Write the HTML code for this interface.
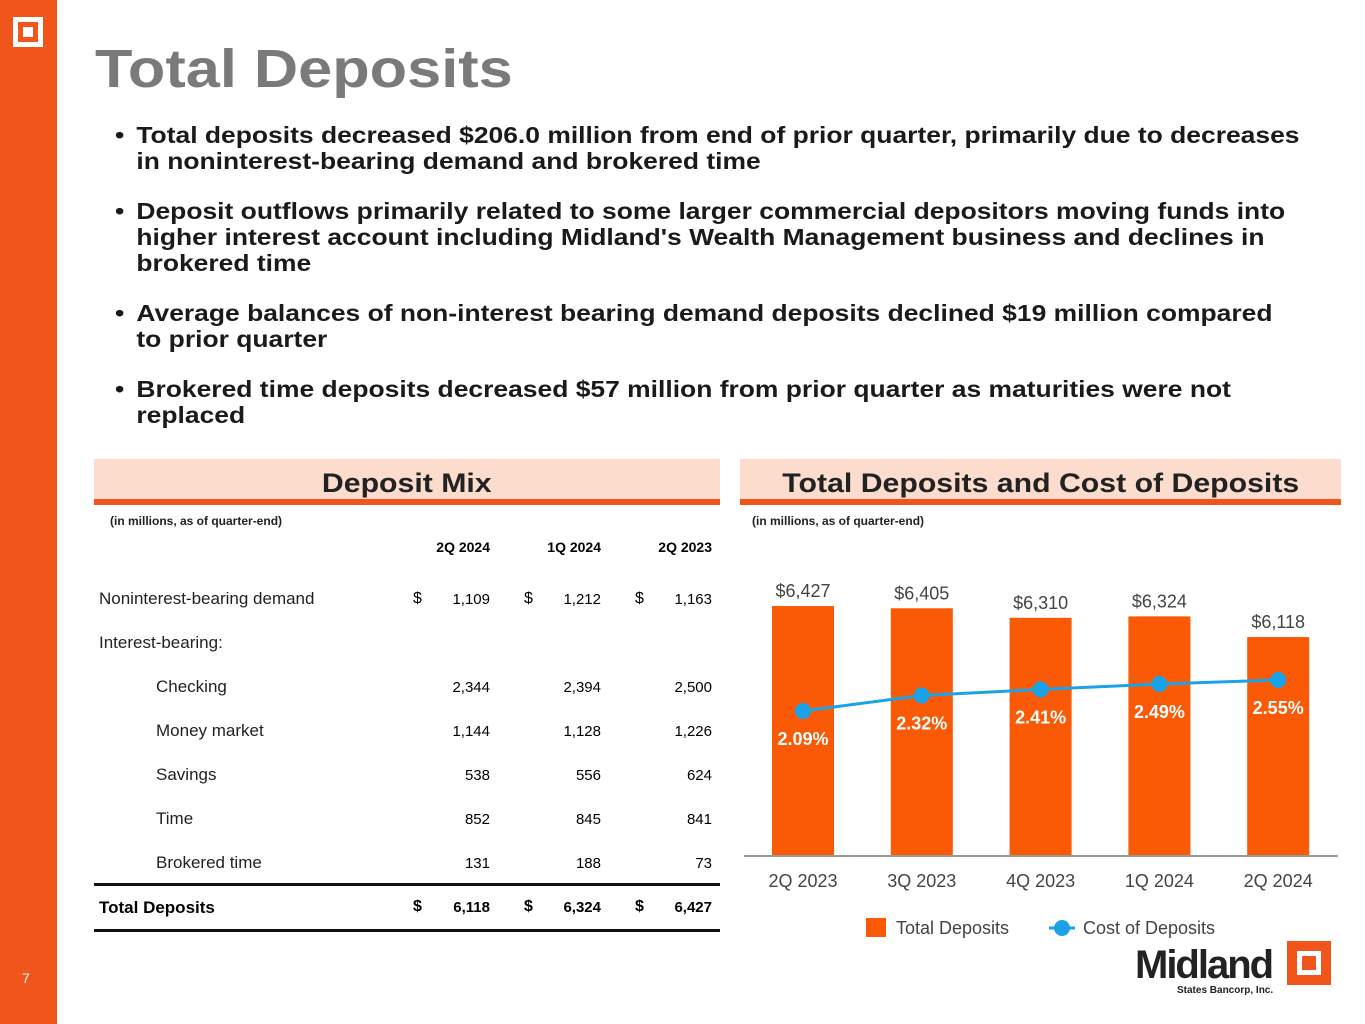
<!DOCTYPE html>
<html><head><meta charset="utf-8"><style>
body{margin:0;width:1365px;height:1024px;position:relative;background:#fff;font-family:"Liberation Sans",sans-serif;overflow:hidden}
.abs{position:absolute}
.bul{position:absolute;left:115px;width:1070px;font-weight:bold;font-size:23.5px;line-height:26px;color:#1a1a1a;transform:scaleX(1.125);transform-origin:0 0}
.bul span.d{position:absolute;left:0}
.bul div{margin-left:19px}
.hdr{position:absolute;top:459px;height:40px;background:#fbdccd;border-bottom:6px solid #f0561c;font-weight:bold;font-size:27px;text-align:center;line-height:48px;color:#222}
.hdr span{display:inline-block;transform:scaleX(1.12)}
.num{position:absolute;text-align:right;font-family:"Liberation Sans",sans-serif;font-size:15px}
</style></head><body>
<div class="abs" style="left:0;top:0;width:57px;height:1024px;background:#f0561c"></div>
<div class="abs" style="left:13px;top:17px;width:20px;height:20px;border:5px solid #fff"><div style="margin:5px;width:10px;height:10px;background:#fff"></div></div>
<div class="abs" style="left:22px;top:970px;color:#fff;font-size:14px">7</div>
<div class="abs" style="left:95px;top:38px;font-size:54px;font-weight:bold;color:#7a7a7a;transform:scaleX(1.135);transform-origin:0 0">Total Deposits</div>

<div class="bul" style="top:122px"><span class="d">•</span><div>Total deposits decreased $206.0 million from end of prior quarter, primarily due to decreases<br>in noninterest-bearing demand and brokered time</div></div>
<div class="bul" style="top:198px"><span class="d">•</span><div>Deposit outflows primarily related to some larger commercial depositors moving funds into<br>higher interest account including Midland's Wealth Management business and declines in<br>brokered time</div></div>
<div class="bul" style="top:300px"><span class="d">•</span><div>Average balances of non-interest bearing demand deposits declined $19 million compared<br>to prior quarter</div></div>
<div class="bul" style="top:376px"><span class="d">•</span><div>Brokered time deposits decreased $57 million from prior quarter as maturities were not<br>replaced</div></div>

<div class="hdr" style="left:94px;width:626px"><span>Deposit Mix</span></div>
<div class="hdr" style="left:740px;width:601px"><span>Total Deposits and Cost of Deposits</span></div>
<div class="abs" style="left:110px;top:514px;font-size:12px;font-weight:bold;color:#222">(in millions, as of quarter-end)</div>
<div class="abs" style="left:752px;top:514px;font-size:12px;font-weight:bold;color:#222">(in millions, as of quarter-end)</div>

<div id="tbl"></div>

<svg id="chart" class="abs" style="left:0;top:0" width="1365" height="1024"></svg>

<div class="abs" style="left:1135px;top:945px">
<div style="font-size:40px;font-weight:bold;letter-spacing:-2px;color:#222;line-height:40px">Midland</div>
<div style="font-size:10px;font-weight:bold;color:#222;margin-left:42px">States Bancorp, Inc.</div>
<div style="position:absolute;left:152px;top:-4px;width:24px;height:24px;border:10px solid #f0561c;background:#fff"><div style="margin:5px;width:14px;height:14px;background:#f0561c"></div></div>
</div>

<script>
const rows=[["Noninterest-bearing demand",["1,109","1,212","1,163"],true,0],["Interest-bearing:",null,false,0],["Checking",["2,344","2,394","2,500"],false,1],["Money market",["1,144","1,128","1,226"],false,1],["Savings",["538","556","624"],false,1],["Time",["852","845","841"],false,1],["Brokered time",["131","188","73"],false,1]];
const tbl=document.getElementById('tbl');
let h='';
const colR=[490,601,712],colD=[413,524,635];
['2Q 2024','1Q 2024','2Q 2023'].forEach((t,i)=>{h+=`<div class="num" style="left:${colR[i]-80}px;width:80px;top:539px;font-weight:bold;font-size:14px">${t}</div>`;});
rows.forEach((r,i)=>{const y=589+i*44;
h+=`<div class="abs" style="left:${r[3]?156:99}px;top:${y}px;font-size:17px;color:#222">${r[0]}</div>`;
if(r[1])r[1].forEach((v,j)=>{h+=`<div class="num" style="left:${colR[j]-80}px;width:80px;top:${y+2}px">${v}</div>`;if(r[2])h+=`<div class="abs" style="left:${colD[j]}px;top:${y+1}px;font-size:16px">$</div>`;});});
h+=`<div class="abs" style="left:94px;top:883px;width:626px;height:3px;background:#111"></div>`;
h+=`<div class="abs" style="left:99px;top:898px;font-size:17px;font-weight:bold">Total Deposits</div>`;
["6,118","6,324","6,427"].forEach((v,j)=>{h+=`<div class="num" style="left:${colR[j]-80}px;width:80px;top:899px;font-weight:bold">${v}</div><div class="abs" style="left:${colD[j]}px;top:898px;font-size:16px;font-weight:bold">$</div>`;});
h+=`<div class="abs" style="left:94px;top:929px;width:626px;height:3px;background:#111"></div>`;
tbl.innerHTML=h;
</script>
<script>
const categories=["2Q 2023","3Q 2023","4Q 2023","1Q 2024","2Q 2024"];
const totalDeposits=[6427,6405,6310,6324,6118];
const costOfDeposits=[2.09,2.32,2.41,2.49,2.55];
const depositLabels=["$6,427","$6,405","$6,310","$6,324","$6,118"];
const costLabels=["2.09%","2.32%","2.41%","2.49%","2.55%"];
const NS='http://www.w3.org/2000/svg';
const svg=document.getElementById('chart');
const x=i=>803+i*118.8;
const yB=v=>856-(v-3935)*0.1003;
const yL=v=>711-(v-2.09)*67.4;
function el(t,a,txt){const e=document.createElementNS(NS,t);for(const k in a)e.setAttribute(k,a[k]);if(txt!=null)e.textContent=txt;svg.appendChild(e);return e;}
const F='"Liberation Sans",sans-serif';
categories.forEach((c,i)=>{
const r=el('rect',{x:x(i)-31,y:yB(totalDeposits[i]),width:62,height:856-yB(totalDeposits[i]),fill:'#fa5a05'});


const t=el('text',{x:x(i),y:yB(totalDeposits[i])-9,'text-anchor':'middle','font-size':18,fill:'#444','font-family':F},depositLabels[i]);


const xl=el('text',{x:x(i),y:887,'text-anchor':'middle','font-size':18,fill:'#444','font-family':F},c);


});
const ax=el('line',{x1:744,x2:1338,y1:856,y2:856,stroke:'#999','stroke-width':2});


const pl=el('polyline',{points:costOfDeposits.map((v,i)=>x(i)+','+yL(v)).join(' '),fill:'none',stroke:'#1aa3e8','stroke-width':3});


costOfDeposits.forEach((v,i)=>{
const c=el('circle',{cx:x(i),cy:yL(v),r:8,fill:'#1aa3e8'});


const t=el('text',{x:x(i),y:yL(v)+34,'text-anchor':'middle','font-size':18,'font-weight':'bold',fill:'#fff','font-family':F},costLabels[i]);


});
const lg1=el('rect',{x:866,y:918,width:20,height:19,fill:'#fa5a05'});


const lt1=el('text',{x:896,y:934,'font-size':18,fill:'#444','font-family':F},'Total Deposits');


const ll=el('line',{x1:1049,x2:1075,y1:928,y2:928,stroke:'#1aa3e8','stroke-width':3});


const lc=el('circle',{cx:1062,cy:928,r:8,fill:'#1aa3e8'});


const lt2=el('text',{x:1083,y:934,'font-size':18,fill:'#444','font-family':F},'Cost of Deposits');


</script>
</body></html>
